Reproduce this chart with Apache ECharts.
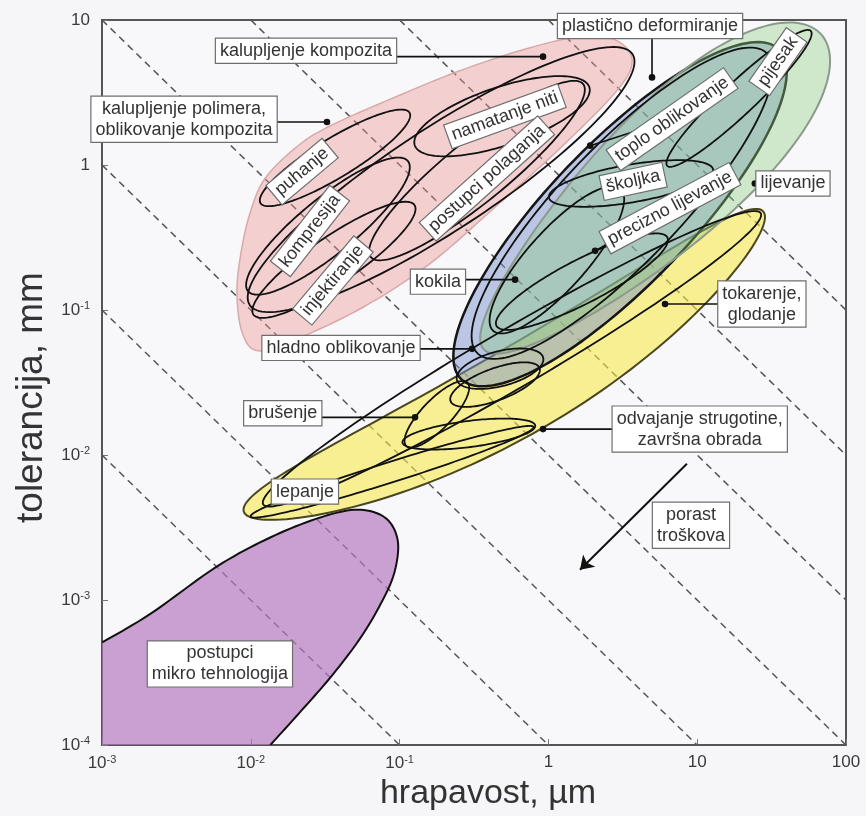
<!DOCTYPE html>
<html>
<head>
<meta charset="utf-8">
<script src="https://cdn.jsdelivr.net/npm/echarts@6/dist/echarts.min.js"></script>
<style>
html,body{margin:0;padding:0;background:#f6f6f8;}
#chart{width:866px;height:816px;}
</style>
</head>
<body>
<div id="chart"></div>
<script>
const FONT = '"Liberation Sans", Arial, Helvetica, sans-serif';

// decade ticks on both axes
const roughnessTicks = [1e-3, 1e-2, 1e-1, 1, 10, 100];
const toleranceTicks = [1e-4, 1e-3, 1e-2, 1e-1, 1, 10];

// lines of equal cost: tolerance (mm) x roughness (um) = const
const costLevels = [1e-5, 1e-4, 1e-3, 1e-2, 1e-1, 1, 10];

// polymer moulding family: closed boundary (roughness um, tolerance mm)
const polymerR = [3.65, 2.94, 1.25, 0.452, 0.160, 0.0568, 0.0204, 0.01117, 8.73e-3, 8.07e-3, 8.59e-3, 9.88e-3, 0.01245, 0.0204, 0.0340, 0.0962, 0.2667, 0.752, 1.63, 2.81];
const polymerT = [5.33, 3.33, 1.36, 0.528, 0.209, 0.1045, 0.0632, 0.0524, 0.0705, 0.1324, 0.248, 0.4656, 0.807, 1.337, 1.858, 2.98, 4.55, 6.44, 7.66, 7.30];

// micro-technology region: boundary from the left axis round to the bottom axis
const microR = [1e-3, 2.1e-3, 5.9e-3, 1.35e-2, 2.9e-2, 5.2e-2, 8.0e-2, 9.7e-2, 9.3e-2, 7.7e-2, 5.4e-2, 3.4e-2, 2.1e-2, 1.35e-2];
const microT = [5.1e-4, 8.0e-4, 1.7e-3, 2.7e-3, 3.7e-3, 4.2e-3, 3.7e-3, 2.6e-3, 1.6e-3, 1.0e-3, 5.4e-4, 2.9e-4, 1.65e-4, 1.0e-4];

// other regions: centre (roughness um, tolerance mm), half-length and half-width in decades,
// tilt in degrees, taper (wider at the low end when > 0), bend (decades, towards lower right)
const shapeName  = ['obrada', 'plasticno', 'lijevanje',
  'kalupljenje kompozita', 'puhanje', 'namatanje niti', 'postupci polaganja', 'kompresija', 'injektiranje',
  'toplo oblikovanje', 'pijesak', 'skoljka', 'precizno lijevanje', 'kokila',
  'hladno oblikovanje', 'hladno 2', 'brusenje', 'fino brusenje', 'lepanje', 'tokarenje'];
const shapeR     = [0.504, 3.03, 4.97,
  0.190, 0.0368, 0.488, 0.331, 0.033, 0.0362,
  3.13, 19.1, 3.59, 1.68, 1.14,
  0.473, 0.438, 0.178, 0.292, 0.089, 0.569];
const shapeT     = [0.0434, 0.458, 0.658,
  0.794, 1.12, 2.17, 0.916, 0.379, 0.222,
  0.545, 2.88, 0.746, 0.157, 0.222,
  0.0394, 0.0306, 0.0191, 0.01396, 0.00767, 0.0461];
const shapeLen   = [2.03, 1.56, 1.57,
  1.55, 0.59, 0.62, 0.93, 0.70, 0.66,
  1.42, 0.67, 0.56, 0.65, 0.65,
  0.30, 0.32, 0.30, 0.45, 1.0, 1.95];
const shapeWid   = [0.30, 0.48, 0.46,
  0.35, 0.135, 0.20, 0.21, 0.19, 0.16,
  0.40, 0.11, 0.13, 0.15, 0.20,
  0.12, 0.11, 0.10, 0.09, 0.07, 0.20];
const shapeTilt  = [30.7, 47, 44,
  34, 32, 19, 40, 40, 35,
  47, 44, 10, 28, 49,
  15, 21, 47, 7.5, 18, 31];
const shapeTaper = [0, 0, -0.25,
  0, 0, 0, 0, 0, 0,
  0, 0, 0, 0, 0,
  0, 0, 0, 0, 0, 0];
const shapeBend  = [0.22, 0, 0,
  0, 0, 0, 0, 0, 0,
  0, 0, 0, 0, 0,
  0, 0, 0, 0, 0, 0];

// labels: text, anchor (roughness, tolerance), rotation, leader dot
const labelText = ['plastično deformiranje', 'kalupljenje kompozita', 'kalupljenje polimera,\noblikovanje kompozita',
  'namatanje niti', 'puhanje', 'postupci polaganja', 'kompresija', 'injektiranje',
  'toplo oblikovanje', 'pijesak', 'školjka', 'precizno lijevanje', 'lijevanje', 'kokila',
  'tokarenje,\nglodanje', 'hladno oblikovanje', 'brušenje', 'odvajanje strugotine,\nzavršna obrada',
  'lepanje', 'porast\ntroškova', 'postupci\nmikro tehnologija'];
const labelR   = [4.82, 0.0235, 3.56e-3, 0.51, 0.0221, 0.386, 0.025, 0.0356, 6.78, 34.9, 3.71, 6.56, 44, 0.181, 27.2, 0.0404, 0.0164, 10.4, 0.0231, 9.08, 6.2e-3];
const labelT   = [9.1, 6.14, 2.07, 2.17, 0.90, 0.807, 0.351, 0.16, 2.07, 5.17, 0.771, 0.504, 0.746, 0.157, 0.110, 0.0548, 0.0194, 0.0151, 5.6e-3, 3.28e-3, 3.63e-4];
const labelRot = [0, 0, 0, 20, 40, 42, 52, 50, 35, 55, 12, 28, 0, 0, 0, 0, 0, 0, 0, 0, 0];
const dotR     = [4.97, 0.92, 0.0325, null, null, null, null, null, 1.91, null, null, 2.06, 24.4, 0.597, 6.08, 0.307, 0.127, 0.92, null, null, null];
const dotT     = [4.02, 5.59, 1.98, null, null, null, null, null, 1.36, null, null, 0.256, 0.746, 0.162, 0.110, 0.054, 0.0182, 0.0151, null, null, null];
const leaderDir = ['v', 'h', 'h', '', '', '', '', '', 'c', '', '', 'c', 'h', 'h', 'h', 'h', 'h', 'h', '', '', ''];

// cost arrow
const arrowR = [8.53, 1.63];
const arrowT = [8.7e-3, 1.62e-3];

const fills = {
  'obrada':    {fill: 'rgba(246,232,70,0.58)', stroke: '#4a4620', lw: 2},
  'plasticno': {fill: 'rgba(120,145,205,0.48)', stroke: '#151515', lw: 2.5},
  'lijevanje': {fill: 'rgba(140,205,125,0.38)', stroke: '#8c998c', lw: 2}
};

const L10 = Math.log10;

function shapeLog(i, n) {
  const cx = L10(shapeR[i]), cy = L10(shapeT[i]);
  const a = shapeLen[i], b = shapeWid[i], th = shapeTilt[i] * Math.PI / 180;
  const out = [];
  for (let k = 0; k < n; k++) {
    const t = 2 * Math.PI * k / n;
    const u = a * Math.cos(t);
    let v = b * Math.sin(t) * (1 - shapeTaper[i] * u / a);
    v -= shapeBend[i] * (1 - (u / a) * (u / a));
    out.push([cx + u * Math.cos(th) - v * Math.sin(th), cy + u * Math.sin(th) + v * Math.cos(th)]);
  }
  return out;
}

function catmull(pts, closed, steps) {
  const n = pts.length, out = [];
  const get = j => closed ? pts[(j + n) % n] : pts[Math.max(0, Math.min(n - 1, j))];
  const segs = closed ? n : n - 1;
  for (let i = 0; i < segs; i++) {
    const p0 = get(i - 1), p1 = get(i), p2 = get(i + 1), p3 = get(i + 2);
    for (let s = 0; s < steps; s++) {
      const t = s / steps, t2 = t * t, t3 = t2 * t;
      const f = d => 0.5 * (2 * p1[d] + (-p0[d] + p2[d]) * t + (2 * p0[d] - 5 * p1[d] + 4 * p2[d] - p3[d]) * t2 + (-p0[d] + 3 * p1[d] - 3 * p2[d] + p3[d]) * t3);
      out.push([f(0), f(1)]);
    }
  }
  if (!closed) out.push(pts[n - 1]);
  return out;
}

// draw order: polymer outlines, machining, plastic forming, casting, then the remaining outlines
const order = [3, 4, 5, 6, 7, 8, 0, 1, 2, 9, 10, 11, 12, 13, 14, 15, 16, 17, 18, 19];

function fmtTick(v) {
  const e = Math.round(L10(v));
  if (e >= 0) return String(Math.round(v));
  return '10{e|' + e + '}';
}

const chart = echarts.init(document.getElementById('chart'), null, {renderer: 'canvas'});

const costData = costLevels.map(k => {
  const r1 = Math.max(1e-3, k / 10), r2 = Math.min(100, k / 1e-4);
  return {coords: [[r1, k / r1], [r2, k / r2]]};
});

const tickRich = {e: {fontFamily: FONT, fontSize: 11, color: '#3a3a3a', verticalAlign: 'bottom', padding: [0, 0, 8, 0]}};

const option = {
  backgroundColor: '#f6f6f8',
  animation: false,
  grid: {left: 102, right: 20, top: 20, bottom: 64, show: true, borderColor: '#555', borderWidth: 2, backgroundColor: '#f8f8fa'},
  xAxis: {
    type: 'log', logBase: 10, min: 1e-3, max: 100,
    name: 'hrapavost, µm', nameLocation: 'middle', nameGap: 30,
    nameTextStyle: {fontFamily: FONT, fontSize: 34, color: '#333', padding: [0, 0, 0, 28]},
    axisLine: {lineStyle: {color: '#555', width: 2}},
    axisTick: {inside: true, length: 6, lineStyle: {color: '#777'}},
    splitLine: {show: false}, minorTick: {show: false},
    axisLabel: {formatter: fmtTick, fontFamily: FONT, fontSize: 17, color: '#3a3a3a', margin: 9, rich: tickRich}
  },
  yAxis: {
    type: 'log', logBase: 10, min: 1e-4, max: 10,
    name: 'tolerancija, mm', nameLocation: 'middle', nameGap: 44,
    nameTextStyle: {fontFamily: FONT, fontSize: 37, color: '#333', padding: [0, 30, 0, 0]},
    axisLine: {lineStyle: {color: '#555', width: 2}},
    axisTick: {inside: true, length: 6, lineStyle: {color: '#777'}},
    splitLine: {show: false}, minorTick: {show: false},
    axisLabel: {formatter: fmtTick, fontFamily: FONT, fontSize: 17, color: '#3a3a3a', margin: 12, rich: tickRich}
  },
  series: [
    {
      type: 'lines', coordinateSystem: 'cartesian2d', silent: true, z: 1,
      lineStyle: {color: '#555', width: 1.5, type: [7, 5], opacity: 1},
      data: costData
    },
    {
      // micro-technology region and polymer moulding family
      type: 'custom', silent: true, z: 2,
      data: [[microR[0], microT[0]]],
      renderItem: function (params, api) {
        const pts = microR.map((r, j) => api.coord([r, microT[j]]));
        const curve = catmull(pts, false, 10);
        const poly = curve.concat([api.coord([1e-3, 1e-4])]);
        const pink = catmull(polymerR.map((r, j) => api.coord([r, polymerT[j]])), true, 10);
        const cs = params.coordSys;
        return {type: 'group', children: [
          {type: 'group', clipPath: {type: 'rect', shape: {x: cs.x, y: cs.y, width: cs.width, height: cs.height}},
            children: [
              {type: 'polygon', shape: {points: poly}, style: {fill: 'rgba(180,118,190,0.68)', stroke: null}},
              {type: 'polyline', shape: {points: curve}, style: {stroke: '#111', lineWidth: 2, fill: null}}
            ]},
          {type: 'polygon', shape: {points: pink}, style: {fill: 'rgba(236,150,150,0.42)', stroke: '#d9a9a9', lineWidth: 1.5}}
        ]};
      }
    },
    {
      // process families and individual processes
      type: 'custom', silent: true, z: 3,
      data: order.map(i => [shapeR[i], shapeT[i], i]),
      renderItem: function (params, api) {
        const i = api.value(2);
        const pts = shapeLog(i, 160).map(p => api.coord([Math.pow(10, p[0]), Math.pow(10, p[1])]));
        const st = fills[shapeName[i]];
        if (st) {
          return {type: 'polygon', shape: {points: pts}, style: {fill: st.fill, stroke: st.stroke, lineWidth: st.lw}};
        }
        return {type: 'polygon', shape: {points: pts}, style: {fill: null, stroke: '#111', lineWidth: 1.8}};
      }
    },
    {
      type: 'lines', coordinateSystem: 'cartesian2d', silent: true, z: 4,
      symbol: ['none', 'arrow'], symbolSize: 13,
      lineStyle: {color: '#111', width: 2, opacity: 1},
      data: [{coords: [[arrowR[0], arrowT[0]], [arrowR[1], arrowT[1]]]}]
    },
    {
      // leader lines with dots
      type: 'custom', silent: true, z: 5,
      data: labelText.map((t, i) => [labelR[i], labelT[i], i]).filter(d => dotR[d[2]] != null),
      renderItem: function (params, api) {
        const i = api.value(2);
        const d = api.coord([dotR[i], dotT[i]]);
        const a = api.coord([labelR[i], labelT[i]]);
        let end;
        if (leaderDir[i] === 'v') end = [d[0], a[1]];
        else if (leaderDir[i] === 'h') end = [a[0], d[1]];
        else end = a;
        return {type: 'group', children: [
          {type: 'line', shape: {x1: d[0], y1: d[1], x2: end[0], y2: end[1]}, style: {stroke: '#111', lineWidth: 1.6}},
          {type: 'circle', shape: {cx: d[0], cy: d[1], r: 3.3}, style: {fill: '#111'}}
        ]};
      }
    },
    {
      // boxed labels
      type: 'custom', silent: true, z: 6,
      data: labelText.map((t, i) => [labelR[i], labelT[i], i]),
      renderItem: function (params, api) {
        const i = api.value(2);
        const a = api.coord([labelR[i], labelT[i]]);
        return {type: 'text', x: a[0], y: a[1], rotation: labelRot[i] * Math.PI / 180,
          style: {text: labelText[i], font: '18px ' + FONT, fill: '#333', align: 'center', verticalAlign: 'middle',
            lineHeight: 21, backgroundColor: '#ffffff', borderColor: '#6e6e6e', borderWidth: 1.2, padding: [2, 4, 1, 4]}};
      }
    }
  ]
};

chart.setOption(option);
</script>
</body>
</html>
